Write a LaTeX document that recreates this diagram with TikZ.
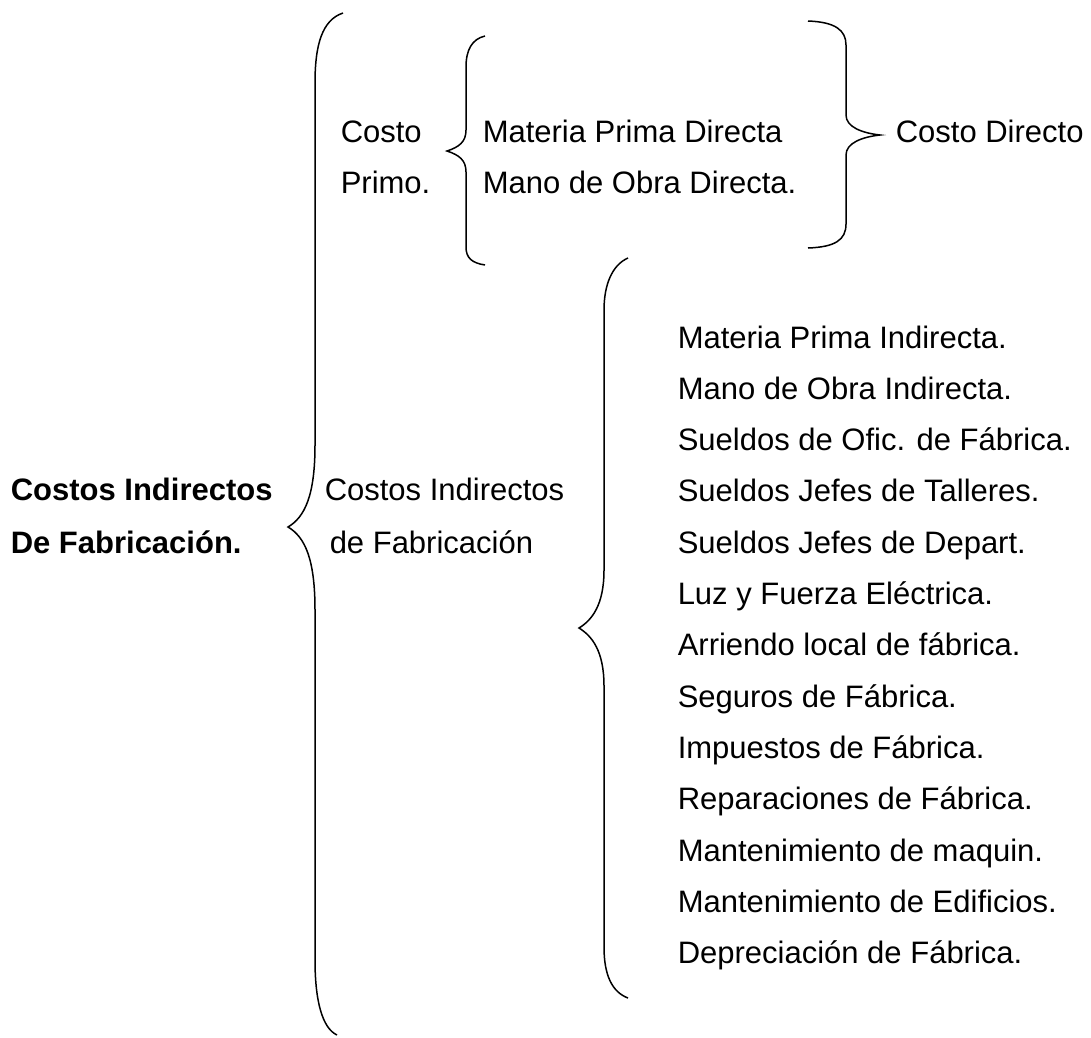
\documentclass[tikz,border=0pt]{standalone}
\usepackage{fontspec}
\setmainfont{Liberation Sans}
\usepackage{tikz}

\begin{document}
\begin{tikzpicture}[x=1pt, y=-1pt, line width=1.5pt,
  txt/.style={anchor=base west, inner sep=0pt, font=\fontsize{31}{37}\selectfont},
  bold txt/.style={txt, font=\fontsize{31}{37}\selectfont\bfseries}]

    \useasboundingbox (0,0) rectangle (1091,1037);

    % main title
    \node[bold txt] (cif1) at (10,500) {Costos Indirectos};
    \node[bold txt] (cif2) at (10,553) {De Fabricación.};

    % costo primo
    \node[txt] (cp1) at (340,142) {Costo};
    \node[txt] (cp2) at (340,193) {Primo.};
    \node[txt] (mpd) at (482,142) {Materia Prima Directa};
    \node[txt] (mod) at (482,193) {Mano de Obra Directa.};
    \node[txt] (cd)  at (895,142) {Costo Directo};

    % costos indirectos
    \node[txt] (ci1) at (324,500) {Costos Indirectos};
    \node[txt] (ci2) at (329,553) {de Fabricación};

    \foreach \t [count=\i from 0] in {Materia Prima Indirecta., Mano de Obra Indirecta.,
        Sueldos de Ofic. de Fábrica., Sueldos Jefes de Talleres., Sueldos Jefes de Depart.,
        Luz y Fuerza Eléctrica., Arriendo local de fábrica., Seguros de Fábrica.,
        Impuestos de Fábrica., Reparaciones de Fábrica., Mantenimiento de maquin.,
        Mantenimiento de Edificios., Depreciación de Fábrica.}
      \node[txt] (it\i) at (677,{348+51.3*\i}) {\t};

    % braces
    \draw (343,13) .. controls (322,20) and (315,45) .. (315,83) -- (315,445)
          .. controls (315,495) and (305,517) .. (288,527)
          .. controls (305,537) and (315,559) .. (315,610) -- (315,960)
          .. controls (315,1000) and (322,1028) .. (337,1035);
    \draw (485,36) .. controls (472,39) and (466,50) .. (466,67) -- (466,130)
          .. controls (466,142) and (459,147) .. (447,151)
          .. controls (459,155) and (466,160) .. (466,172) -- (466,247)
          .. controls (466,258) and (472,263) .. (485,265);
    \draw (808,21) .. controls (835,22) and (846,30) .. (846,45) -- (846,115)
          .. controls (846,127) and (862,133) .. (880,135)
          .. controls (862,137) and (846,143) .. (846,155) -- (846,224)
          .. controls (846,240) and (835,247) .. (808,248);
    \draw (628,258) .. controls (612,265) and (604,285) .. (604,310) -- (604,570)
          .. controls (604,605) and (592,620) .. (579,628)
          .. controls (592,636) and (604,651) .. (604,686) -- (604,947)
          .. controls (604,975) and (612,992) .. (628,998);

\end{tikzpicture}
\end{document}
